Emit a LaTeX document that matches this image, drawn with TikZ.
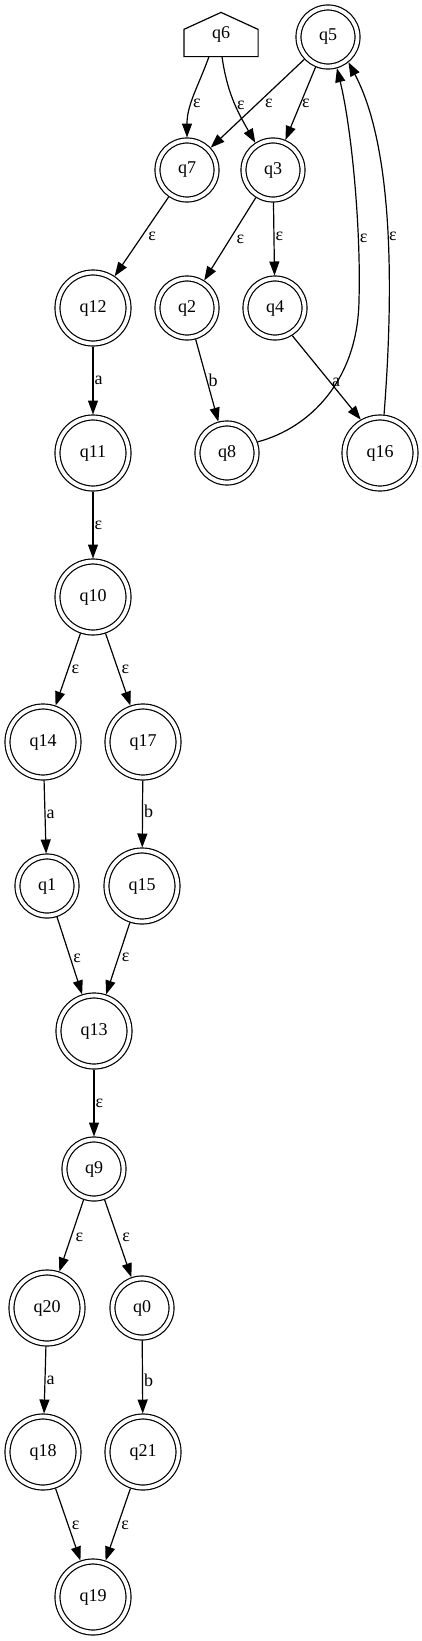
\documentclass[tikz,border=0pt]{standalone}
\usepackage{fontspec}
\setmainfont{Liberation Serif}
\usetikzlibrary{arrows.meta}

\begin{document}
\begin{tikzpicture}[->,>={Triangle[length=14pt,width=10pt]},x=1pt,y=1pt,line width=1.2pt,
  every node/.style={font=\fontsize{18}{20}\selectfont},
  accs/.style={draw,circle,double,double distance=3.8pt,inner sep=0pt,outer sep=3pt,minimum size=59pt},
  accl/.style={accs,minimum size=71pt},
  house/.style={inner sep=0pt,minimum width=73pt,minimum height=43pt},
  lbl/.style={anchor=west,inner sep=1pt}]

\useasboundingbox (0,0) rectangle (422,-1641);

% start state
\node[house] (q6) at (221,-34.5) {q6};
\draw[-] (q6.south west) -- ([yshift=-17pt]q6.north west) -- (q6.north) -- ([yshift=-17pt]q6.north east) -- (q6.south east) -- cycle;

% upper part
\node[accs] (q5) at (328,-37) {q5};
\node[accs] (q7) at (187,-170) {q7};
\node[accs] (q3) at (273,-170) {q3};
\node[accl] (q12) at (93,-308) {q12};
\node[accs] (q2) at (187,-308) {q2};
\node[accs] (q4) at (275,-308) {q4};
\node[accl] (q11) at (93,-453) {q11};
\node[accs] (q8) at (227,-453) {q8};
\node[accl] (q16) at (380,-453) {q16};

% middle part
\node[accl] (q10) at (93,-597) {q10};
\node[accl] (q14) at (43,-742) {q14};
\node[accl] (q17) at (143,-742) {q17};
\node[accs] (q1) at (47,-886) {q1};
\node[accl] (q15) at (142,-886) {q15};
\node[accl] (q13) at (94,-1031) {q13};

% lower part
\node[accs] (q9) at (94,-1169) {q9};
\node[accl] (q20) at (47,-1308) {q20};
\node[accs] (q0) at (142,-1308) {q0};
\node[accl] (q18) at (43,-1452) {q18};
\node[accl] (q21) at (143,-1452) {q21};
\node[accl] (q19) at (93,-1597) {q19};

\draw ([xshift=-12pt]q6.south) to[out=-110,in=90] node[lbl,pos=.6] {ε} (q7);
\draw ([xshift=1pt]q6.south) to[out=-82,in=120] node[lbl,pos=.55] {ε} (q3.123);
\draw (q5) edge node[lbl,pos=.5,xshift=6pt] {ε} (q7);
\draw (q5) edge node[lbl,pos=.5] {ε} (q3);
\draw (q7) edge node[lbl,pos=.5,xshift=5pt] {ε} (q12);
\draw (q3) edge node[lbl,pos=.5,xshift=5pt] {ε} (q2);
\draw (q3) edge node[lbl,pos=.47] {ε} (q4);
\draw (q12) edge node[lbl,pos=.5] {a} (q11);
\draw (q2) edge node[lbl,pos=.5] {b} (q8);
\draw (q4.-58) -- node[lbl,pos=.56] {a} (q16.120);
\draw (q8.20) .. controls (310,-428) and (358,-380) .. (359,-300)
  .. controls (361,-230) and (352,-130) .. (q5.-74) node[lbl,pos=.27] {ε};
\draw (q16.84) .. controls (393,-300) and (395,-150) .. (q5.-51) node[lbl,pos=.48] {ε};

\draw (q11) edge node[lbl,pos=.5] {ε} (q10);
\draw (q10) edge node[lbl,pos=.5,xshift=2pt] {ε} (q14);
\draw (q10) edge node[lbl,pos=.5,xshift=2pt] {ε} (q17);
\draw (q14) edge node[lbl,pos=.46] {a} (q1);
\draw (q17) edge node[lbl,pos=.46] {b} (q15);
\draw (q1) edge node[lbl,pos=.53,xshift=1.5pt] {ε} (q13);
\draw (q15) edge node[lbl,pos=.49,xshift=2pt] {ε} (q13);

\draw (q13) edge node[lbl,pos=.5] {ε} (q9);
\draw (q9) edge node[lbl,pos=.52,xshift=3pt] {ε} (q20);
\draw (q9) edge node[lbl,pos=.49,xshift=3pt] {ε} (q0);
\draw (q20) edge node[lbl,pos=.5] {a} (q18);
\draw (q0) edge node[lbl,pos=.55] {b} (q21);
\draw (q18) edge node[lbl,pos=.51,xshift=2pt] {ε} (q19);
\draw (q21) edge node[lbl,pos=.51,xshift=2pt] {ε} (q19);

\end{tikzpicture}
\end{document}
